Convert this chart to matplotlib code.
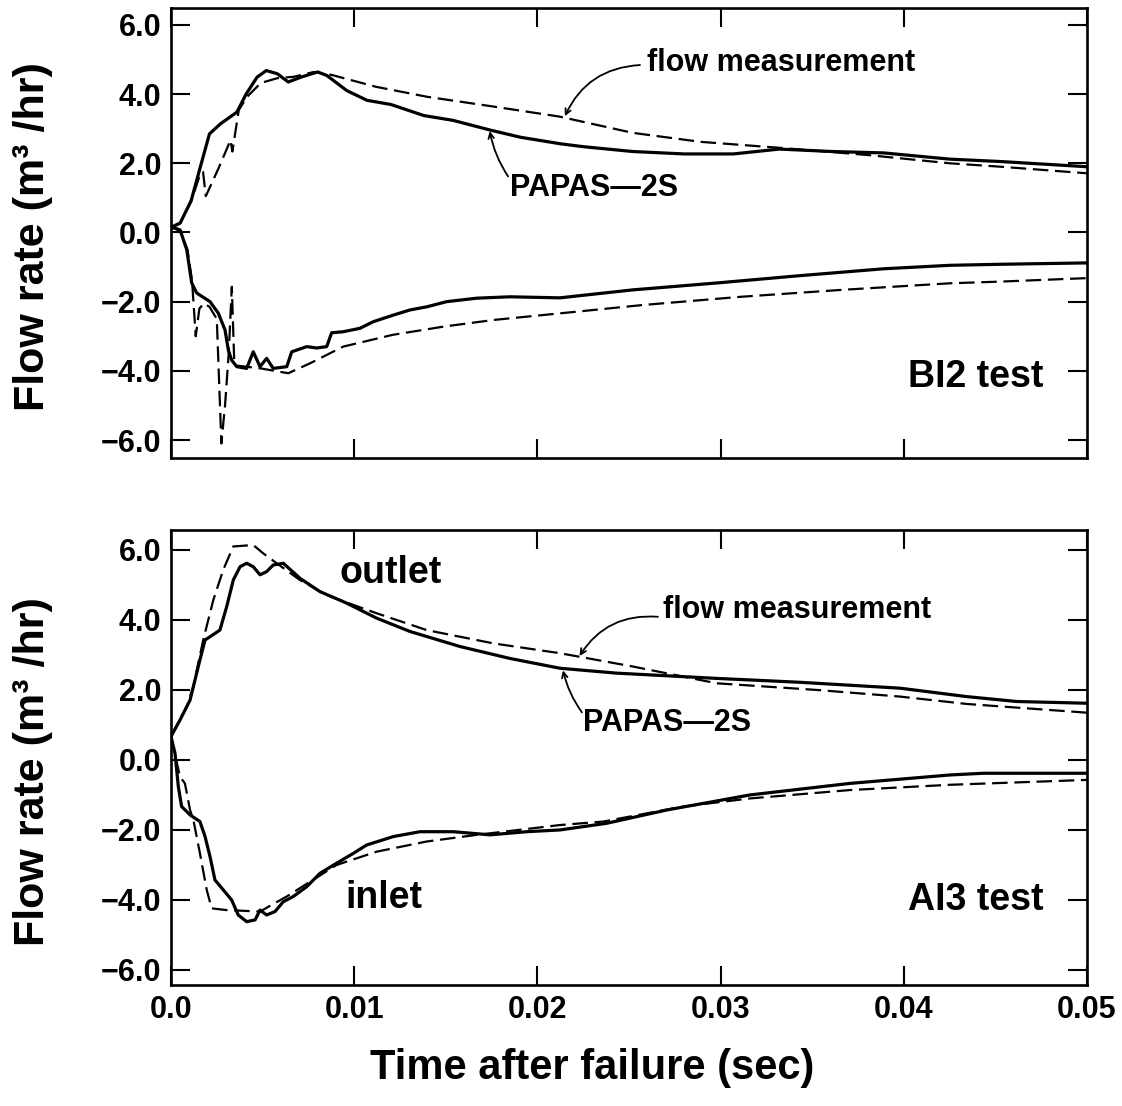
import matplotlib
matplotlib.use("Agg")
import matplotlib.pyplot as plt
import numpy as np

plt.rcParams['font.family'] = ['Liberation Sans', 'DejaVu Sans']
plt.rcParams['font.weight'] = 'bold'

# ---- BI2 test (top panel), time in ms ----
bi2_out_calc_t = [0, 0.5, 1.1, 1.6, 2.1, 2.7, 3.6, 4.1, 4.7, 5.2, 5.8, 6.4, 7.1, 8.0, 8.5,
                  9.6, 10.7, 12.0, 13.8, 15.4, 17.5, 19.1, 21.3, 22.5, 25.2, 28.0, 30.7,
                  33.2, 36.1, 38.9, 42.5, 45.3, 50.0]
bi2_out_calc_v = [0.15, 0.27, 0.92, 1.89, 2.85, 3.14, 3.48, 4.0, 4.49, 4.68, 4.59, 4.35, 4.49,
                  4.64, 4.54, 4.1, 3.82, 3.7, 3.38, 3.24, 2.95, 2.75, 2.56, 2.48, 2.34, 2.27,
                  2.27, 2.41, 2.34, 2.3, 2.12, 2.05, 1.9]

bi2_out_meas_t = [0, 0.5, 1.1, 1.6, 1.75, 1.9, 2.6, 3.25, 3.35, 3.7, 4.15, 4.9, 5.8, 6.7, 7.8,
                  8.8, 11.2, 14.0, 17.6, 21.2, 25.2, 28.9, 33.4, 38.0, 42.5, 45.3, 50.0]
bi2_out_meas_v = [0.15, 0.27, 0.9, 1.7, 1.75, 1.05, 1.86, 2.67, 2.34, 3.54, 3.92, 4.32, 4.46,
                  4.5, 4.64, 4.55, 4.21, 3.92, 3.64, 3.35, 2.88, 2.62, 2.44, 2.24, 2.0, 1.9, 1.71]

bi2_in_calc_t = [0, 0.5, 0.86, 1.13, 1.4, 2.13, 2.58, 2.95, 3.13, 3.31, 3.59, 4.13, 4.49, 4.86,
                 5.22, 5.58, 6.32, 6.59, 7.41, 7.95, 8.5, 8.77, 9.4, 10.32, 11.04, 12.13, 13.05,
                 13.96, 15.05, 16.69, 18.5, 21.23, 25.2, 29.8, 34.3, 38.9, 42.5, 45.25, 50.0]
bi2_in_calc_v = [0.17, 0.07, -0.5, -1.46, -1.75, -2.0, -2.33, -2.82, -3.4, -3.69, -3.88, -3.93,
                 -3.45, -3.88, -3.64, -3.93, -3.88, -3.45, -3.3, -3.34, -3.3, -2.9, -2.87, -2.77,
                 -2.58, -2.39, -2.24, -2.15, -2.0, -1.9, -1.86, -1.89, -1.66, -1.46, -1.25,
                 -1.05, -0.95, -0.92, -0.88]

bi2_in_meas_t = [0, 0.5, 0.9, 1.15, 1.35, 1.55, 1.8, 2.1, 2.5, 2.75, 2.95, 3.15, 3.32, 3.45,
                 3.6, 4.9, 6.4, 7.6, 9.4, 12.1, 14.9, 17.6, 21.2, 25.7, 31.1, 36.6, 42.5,
                 45.3, 50.0]
bi2_in_meas_v = [0.15, 0.05, -0.5, -1.4, -3.0, -2.2, -2.05, -2.15, -2.5, -6.1, -5.0, -3.5,
                 -1.57, -3.7, -3.85, -3.93, -4.07, -3.78, -3.3, -2.96, -2.72, -2.53, -2.34,
                 -2.1, -1.86, -1.66, -1.47, -1.42, -1.32]

# ---- AI3 test (bottom panel), time in ms ----
ai3_out_calc_t = [0, 0.49, 1.04, 1.58, 1.86, 2.13, 2.67, 3.04, 3.4, 3.77, 4.13, 4.49, 4.86,
                  5.22, 5.58, 6.13, 7.04, 8.13, 9.59, 11.23, 13.05, 15.78, 18.5, 21.23, 24.33,
                  29.79, 34.3, 39.8, 43.43, 46.16, 50.0]
ai3_out_calc_v = [0.67, 1.14, 1.71, 2.86, 3.43, 3.52, 3.71, 4.38, 5.14, 5.52, 5.62, 5.52, 5.29,
                  5.38, 5.57, 5.62, 5.19, 4.81, 4.48, 4.05, 3.67, 3.24, 2.9, 2.62, 2.48, 2.33,
                  2.22, 2.05, 1.81, 1.67, 1.62]

ai3_out_meas_t = [0, 0.86, 1.22, 1.76, 2.31, 2.85, 3.4, 4.49, 5.04, 5.77, 7.04, 8.5, 9.95,
                  11.23, 13.96, 17.6, 21.23, 25.2, 29.79, 35.25, 39.8, 43.43, 50.0]
ai3_out_meas_v = [0.67, 1.52, 2.1, 3.43, 4.57, 5.43, 6.1, 6.14, 5.9, 5.62, 5.14, 4.71, 4.43,
                  4.19, 3.71, 3.33, 3.05, 2.67, 2.19, 2.0, 1.81, 1.6, 1.35]

ai3_in_calc_t = [0, 0.22, 0.4, 0.58, 1.04, 1.58, 1.86, 2.13, 2.4, 2.85, 3.31, 3.67, 4.13, 4.59,
                 4.86, 5.22, 5.68, 6.13, 6.68, 7.41, 8.13, 9.04, 9.95, 10.68, 12.13, 13.59,
                 15.41, 17.41, 19.42, 21.23, 23.78, 27.06, 31.6, 37.06, 42.5, 44.34, 50.0]
ai3_in_calc_v = [0.67, 0.19, -0.76, -1.33, -1.57, -1.76, -2.19, -2.76, -3.43, -3.71, -4.0,
                 -4.43, -4.62, -4.57, -4.29, -4.43, -4.33, -4.05, -3.9, -3.62, -3.24, -2.95,
                 -2.67, -2.43, -2.19, -2.05, -2.05, -2.14, -2.05, -2.0, -1.81, -1.43, -1.0,
                 -0.67, -0.43, -0.38, -0.38]

ai3_in_meas_t = [0, 0.49, 0.76, 1.04, 1.22, 1.58, 1.95, 2.22, 3.04, 4.86, 6.32, 7.59, 9.04,
                 11.23, 13.96, 16.69, 21.23, 23.6, 27.96, 31.6, 37.06, 42.5, 50.0]
ai3_in_meas_v = [0.67, -0.48, -0.67, -1.43, -1.71, -2.67, -3.71, -4.24, -4.29, -4.33, -3.9,
                 -3.48, -3.0, -2.62, -2.33, -2.14, -1.86, -1.76, -1.33, -1.1, -0.86, -0.71,
                 -0.57]

xtick_vals = [0.0, 0.01, 0.02, 0.03, 0.04, 0.05]
xtick_labels = ['0.0', '0.01', '0.02', '0.03', '0.04', '0.05']
ytick_vals = [6, 4, 2, 0, -2, -4, -6]
ytick_labels = ['6.0', '4.0', '2.0', '0.0', '\u22122.0', '\u22124.0', '\u22126.0']


def ms(t):
    return np.array(t) / 1000.0


def style_axes(ax, ylim, show_x):
    ax.set_xlim(0, 0.05)
    ax.set_ylim(*ylim)
    ax.set_xticks(xtick_vals)
    ax.set_yticks(ytick_vals)
    ax.set_yticklabels(ytick_labels)
    if show_x:
        ax.set_xticklabels(xtick_labels)
    ax.tick_params(direction='in', length=14, width=1.5, top=True, right=True,
                   labelsize=22, labelbottom=show_x, pad=7)
    for s in ax.spines.values():
        s.set_linewidth(1.9)


def draw(ax, calc, meas):
    for t, v in calc:
        ax.plot(ms(t), v, color='black', lw=2.3, solid_joinstyle='round')
    for t, v in meas:
        ax.plot(ms(t), v, color='black', lw=1.6, linestyle=(0, (7, 3)))


fig = plt.figure(figsize=(11.22, 11.06), dpi=100)
ax1 = fig.add_axes([0.1524, 0.5859, 0.8164, 0.4069])
ax2 = fig.add_axes([0.1524, 0.1094, 0.8164, 0.4114])

draw(ax1, [(bi2_out_calc_t, bi2_out_calc_v), (bi2_in_calc_t, bi2_in_calc_v)],
     [(bi2_out_meas_t, bi2_out_meas_v), (bi2_in_meas_t, bi2_in_meas_v)])
draw(ax2, [(ai3_out_calc_t, ai3_out_calc_v), (ai3_in_calc_t, ai3_in_calc_v)],
     [(ai3_out_meas_t, ai3_out_meas_v), (ai3_in_meas_t, ai3_in_meas_v)])

style_axes(ax1, (-6.52, 6.49), False)
style_axes(ax2, (-6.43, 6.57), True)

arrow_curve = dict(arrowstyle='->', lw=1.3, color='black',
                   connectionstyle='arc3,rad=0.3', shrinkA=0, shrinkB=0)
arrow_straight = dict(arrowstyle='->', lw=1.3, color='black',
                      connectionstyle='arc3,rad=-0.1', shrinkA=0, shrinkB=0)

# top panel annotations
ax1.text(0.0260, 4.90, 'flow measurement', fontsize=22, ha='left', va='center')
ax1.annotate('', xy=(0.0215, 3.36), xytext=(0.0256, 4.84), arrowprops=arrow_curve)
ax1.text(0.0185, 1.29, 'PAPAS\u20142S', fontsize=22, ha='left', va='center')
ax1.annotate('', xy=(0.0174, 2.93), xytext=(0.0184, 1.62), arrowprops=arrow_straight)
ax1.text(0.0476, -4.18, 'BI2 test', fontsize=27, ha='right', va='center')

# bottom panel annotations
ax2.text(0.00922, 5.34, 'outlet', fontsize=27, ha='left', va='center')
ax2.text(0.0095, -3.94, 'inlet', fontsize=27, ha='left', va='center')
ax2.text(0.02686, 4.29, 'flow measurement', fontsize=22, ha='left', va='center')
ax2.annotate('', xy=(0.0223, 2.97), xytext=(0.02658, 4.09), arrowprops=arrow_curve)
ax2.text(0.02249, 1.06, 'PAPAS\u20142S', fontsize=22, ha='left', va='center')
ax2.annotate('', xy=(0.0214, 2.56), xytext=(0.02243, 1.36), arrowprops=arrow_straight)
ax2.text(0.0476, -4.0, 'AI3 test', fontsize=27, ha='right', va='center')

# axis labels
fig.text(33 / 1122, 1 - 237 / 1106, 'Flow rate (m\u00b3 /hr)', rotation=90,
         fontsize=31, ha='center', va='center')
fig.text(33 / 1122, 1 - 772 / 1106, 'Flow rate (m\u00b3 /hr)', rotation=90,
         fontsize=31, ha='center', va='center')
fig.text(592 / 1122, 1 - 1068 / 1106, 'Time after failure (sec)',
         fontsize=30, ha='center', va='center')

fig.savefig('out.png', dpi=100)
